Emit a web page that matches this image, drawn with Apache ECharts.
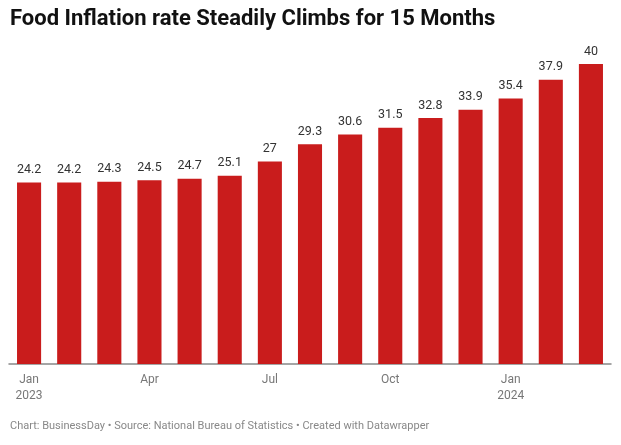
<!DOCTYPE html>
<html><head><meta charset="utf-8">
<script src="https://cdn.jsdelivr.net/npm/echarts@6/dist/echarts.min.js"></script>
<style>html,body{margin:0;padding:0;background:#fff}#c{width:621px;height:445px}</style>
</head><body><div id="c"></div>
<script>
const months = ["Jan 2023","Feb 2023","Mar 2023","Apr 2023","May 2023","Jun 2023","Jul 2023","Aug 2023","Sep 2023","Oct 2023","Nov 2023","Dec 2023","Jan 2024","Feb 2024","Mar 2024"];
const values = [24.2,24.2,24.3,24.5,24.7,25.1,27,29.3,30.6,31.5,32.8,33.9,35.4,37.9,40];
const tickLabels = {"Jan 2023":"Jan\n2023","Apr 2023":"Apr","Jul 2023":"Jul","Oct 2023":"Oct","Jan 2024":"Jan\n2024"};
const title = "Food Inflation rate Steadily Climbs for 15 Months";
const footer = "Chart: BusinessDay • Source: National Bureau of Statistics • Created with Datawrapper";

const chart = echarts.init(document.getElementById('c'));
chart.setOption({
  animation:false,
  textStyle:{fontFamily:'Roboto'},
  title:[{text:title,left:10,top:8,padding:0,textStyle:{fontFamily:'Roboto',fontWeight:'bold',fontSize:22,color:'#111'}},
         {text:footer,left:10,top:421,padding:0,textStyle:{fontFamily:'Roboto',fontWeight:'normal',fontSize:11,color:'#888'}}],
  grid:{left:9,right:10,top:64,bottom:81},
  xAxis:{type:'category',data:months,
    axisLine:{lineStyle:{color:'#888',width:1.5}},
    axisTick:{show:false},
    axisLabel:{interval:0,color:'#777',fontSize:12,lineHeight:16,margin:8,
      formatter:v=>tickLabels[v]||''}},
  yAxis:{type:'value',min:0,max:40,show:false,splitLine:{show:false}},
  series:[{type:'bar',data:values,barWidth:'60%',
    itemStyle:{color:'#c91c1c'},
    label:{show:true,position:'top',distance:6,color:'#333',fontSize:12.5}}]
});
</script></body></html>
